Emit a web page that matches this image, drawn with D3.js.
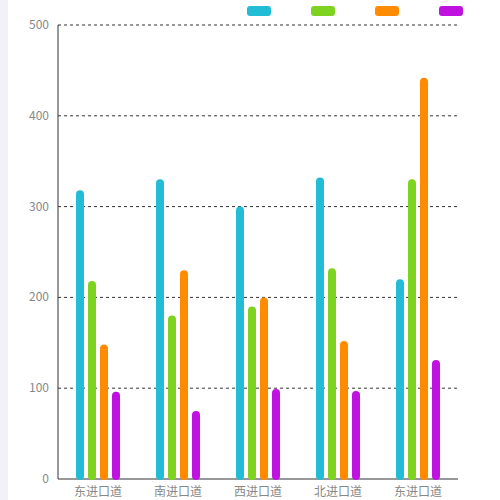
<!DOCTYPE html>
<html><head><meta charset="utf-8">
<script src="https://cdn.jsdelivr.net/npm/d3@7"></script>
<style>body{margin:0;background:#fff}</style>
</head><body>
<svg width="500" height="500"></svg>
<script>
var categories = ["东进口道", "南进口道", "西进口道", "北进口道", "东进口道 "];
var series1 = [318, 330, 300, 332, 220];
var series2 = [218, 180, 190, 232, 330];
var series3 = [148, 230, 200, 152, 442];
var series4 = [96, 75, 99, 97, 131];
var colors = ["#22bcd4", "#7ed321", "#ff8c00", "#bf12e0"];
var series = [series1, series2, series3, series4];
var ticks = [0, 100, 200, 300, 400, 500];

var svg = d3.select("svg");
svg.append("rect").attr("width", 8).attr("height", 500).attr("fill", "#f1f1f7");

var x = d3.scaleBand().domain(categories).range([58, 458]);
var y = d3.scaleLinear().domain([0, 500]).range([479, 25]);

// grid
svg.append("g").selectAll("line").data(ticks.slice(1)).enter().append("line")
  .attr("x1", 58).attr("x2", 458)
  .attr("y1", d => y(d)).attr("y2", d => y(d))
  .attr("stroke", "#333").attr("stroke-dasharray", "3,3");

// y labels
svg.append("g").selectAll("text").data(ticks).enter().append("text")
  .attr("x", 49).attr("y", d => y(d) + 4).attr("text-anchor", "end")
  .attr("font-family", "Noto Sans CJK SC, sans-serif").attr("font-size", 12)
  .attr("fill", "#888").text(d => d);

svg.append("line").attr("x1", 58).attr("x2", 58).attr("y1", 25).attr("y2", 479).attr("stroke", "#333");
svg.append("line").attr("x1", 58).attr("x2", 458).attr("y1", 479).attr("y2", 479).attr("stroke", "#333");

// x labels
svg.append("g").selectAll("text").data(categories).enter().append("text")
  .attr("x", d => x(d) + x.bandwidth() / 2).attr("y", 496).attr("text-anchor", "middle")
  .attr("font-family", "Noto Sans CJK SC, sans-serif").attr("font-size", 12)
  .attr("fill", "#888").text(d => d.trim());

// bars
series.forEach(function (s, i) {
  svg.append("g").selectAll("rect").data(s).enter().append("rect")
    .attr("x", (d, j) => x(categories[j]) + x.bandwidth() / 2 - 22 + i * 12)
    .attr("width", 8)
    .attr("y", d => y(d))
    .attr("height", d => 479 - y(d) + 1)
    .attr("rx", 4)
    .attr("fill", colors[i]);
});

// legend
svg.append("g").selectAll("rect").data(colors).enter().append("rect")
  .attr("x", (d, i) => 247 + i * 64).attr("y", 6)
  .attr("width", 24).attr("height", 10).attr("rx", 3)
  .attr("fill", d => d);
</script>
</body></html>
